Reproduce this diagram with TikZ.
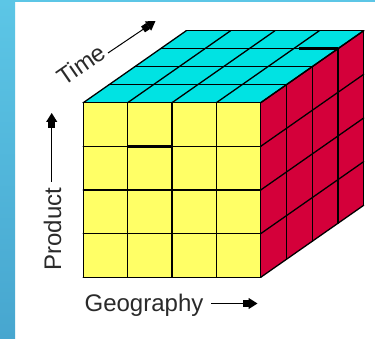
\documentclass[tikz,border=0pt]{standalone}
\usepackage{fontspec}
\setmainfont{Liberation Sans}
\usetikzlibrary{arrows.meta}
\definecolor{bgblue}{HTML}{5CC6E6}
\definecolor{bgbluedark}{HTML}{47A6CF}
\definecolor{cubeyellow}{HTML}{FFFF66}
\definecolor{cubecyan}{HTML}{00E3E3}
\definecolor{cubered}{HTML}{D4003A}
\definecolor{textgray}{HTML}{2A2A2A}
\begin{document}
\begin{tikzpicture}[x=1pt,y=-1pt,
  gridline/.style={line width=1.3pt,line cap=round,line join=round},
  thickline/.style={line width=2.6pt},
  axisarrow/.style={line width=1.2pt,draw=black,
    -{Rectangle[length=6pt,width=7pt]Triangle[length=9pt,width=11pt]}},
  axislabel/.style={text=textgray,inner sep=0pt,font=\fontsize{24}{28}\selectfont}]
% canvas
\useasboundingbox (0,0) rectangle (375,339);
\fill[white] (0,0) rectangle (375,339);
\shade[top color=bgblue,bottom color=bgbluedark] (0,0) rectangle (15,339);
\fill[bgblue] (0,0) rectangle (375,2.5);
% cube corners
\coordinate (FTL) at (83.3,102.7);
\coordinate (FTR) at (260.7,102.7);
\coordinate (FBL) at (83.3,277.3);
\coordinate (FBR) at (260.7,277.3);
\def\dx{103}\def\dy{-72}
% faces
\fill[cubeyellow] (FTL) rectangle (FBR);
\fill[cubecyan] (FTL) -- (FTR) -- ++(\dx,\dy) -- ([shift={(\dx,\dy)}]FTL) -- cycle;
\fill[cubered] (FTR) -- (FBR) -- ++(\dx,\dy) -- ([shift={(\dx,\dy)}]FTR) -- cycle;
% front grid
\foreach \i in {0,...,4}{
  \draw[gridline] (83.3+\i*44.35,102.7) -- (83.3+\i*44.35,277.3);
  \draw[gridline] (83.3,102.7+\i*43.65) -- (260.7,102.7+\i*43.65);
}
% top grid
\foreach \k in {0,...,4}{
  \draw[gridline] (83.3+\k*25.75,102.7-\k*18) -- (260.7+\k*25.75,102.7-\k*18);
}
\foreach \i in {0,...,4}{
  \draw[gridline] (83.3+\i*44.35,102.7) -- ++(\dx,\dy);
}
% right grid
\foreach \k in {0,...,4}{
  \draw[gridline] (260.7+\k*25.75,102.7-\k*18) -- (260.7+\k*25.75,277.3-\k*18);
}
\foreach \j in {0,...,4}{
  \draw[gridline] (260.7,102.7+\j*43.65) -- ++(\dx,\dy);
}
% highlighted edges
\draw[thickline] (127.65,146.35) -- (172,146.35);
\draw[thickline] (299,48.7) -- (338,48.7);
% axes
\coordinate (pa) at (51.7,182);
\coordinate (pb) at (51.7,113);
\coordinate (ta) at (108,53);
\coordinate (tb) at (155.5,21);
\coordinate (ga) at (211,303.5);
\coordinate (gb) at (257.5,303.5);
\draw[axisarrow] (pa) -- (pb);
\draw[axisarrow,line width=1pt] (ta) -- (tb);
\draw[axisarrow] (ga) -- (gb);
\node[axislabel,anchor=base,rotate=90] (product) at (61,229) {Product};
\node[axislabel,anchor=base,rotate=34.6] (time) at (86,71.5) {Time};
\node[axislabel,anchor=base] (geo) at (144,311.5) {Geography};
\end{tikzpicture}
\end{document}
